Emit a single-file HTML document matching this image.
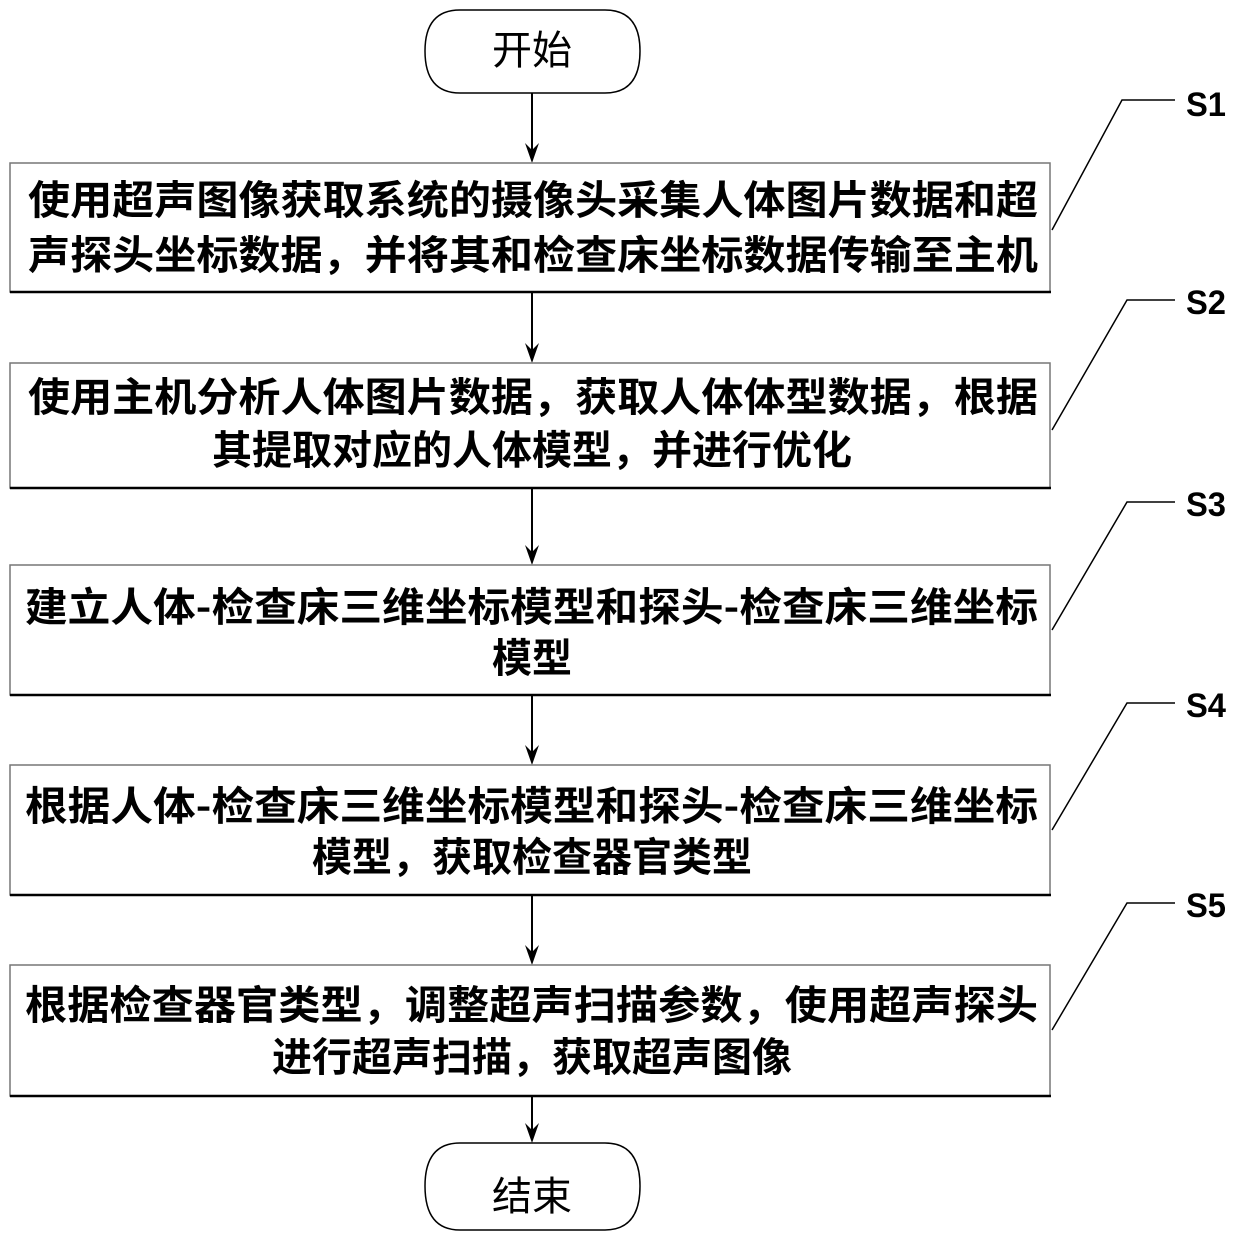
<!DOCTYPE html>
<html><head><meta charset="utf-8"><style>html,body{margin:0;padding:0;background:#fff}</style></head>
<body>
<svg width="1240" height="1254" viewBox="0 0 1240 1254" xmlns="http://www.w3.org/2000/svg" font-family="'Liberation Sans','Noto Sans CJK SC',sans-serif" font-weight="bold">
<g fill="none" stroke="#000" stroke-width="2">
<path d="M460,10 L605,10 Q640,10 640,51 Q640,93 605,93 L460,93 Q425,93 425,51 Q425,10 460,10 Z" stroke-width="1.5"/>
<path d="M460,1143 L605,1143 Q640,1143 640,1186 Q640,1230 605,1230 L460,1230 Q425,1230 425,1186 Q425,1143 460,1143 Z" stroke-width="1.5"/>
<line x1="532" y1="93" x2="532" y2="150"/>
<line x1="532" y1="293" x2="532" y2="350"/>
<line x1="532" y1="489" x2="532" y2="552"/>
<line x1="532" y1="696" x2="532" y2="752"/>
<line x1="532" y1="896" x2="532" y2="952"/>
<line x1="532" y1="1097" x2="532" y2="1130"/>
</g>
<g fill="#000">
<path d="M525,143 L532,163 L539,143 L532,150 Z"/>
<path d="M525,343 L532,363 L539,343 L532,350 Z"/>
<path d="M525,545 L532,565 L539,545 L532,552 Z"/>
<path d="M525,745 L532,765 L539,745 L532,752 Z"/>
<path d="M525,945 L532,965 L539,945 L532,952 Z"/>
<path d="M525,1123 L532,1143 L539,1123 L532,1130 Z"/>
</g>
<g fill="#fff" stroke="#777" stroke-width="1.5">
<rect x="10" y="163" width="1040" height="129"/>
<rect x="10" y="363" width="1040" height="125"/>
<rect x="10" y="565" width="1040" height="130"/>
<rect x="10" y="765" width="1040" height="130"/>
<rect x="10" y="965" width="1040" height="131"/>
</g>
<g stroke="#000" stroke-width="2.5">
<line x1="10" y1="292" x2="1051" y2="292"/><line x1="10" y1="488" x2="1051" y2="488"/>
<line x1="10" y1="695" x2="1051" y2="695"/><line x1="10" y1="895" x2="1051" y2="895"/>
<line x1="10" y1="1096" x2="1051" y2="1096"/>
</g>
<g fill="none" stroke="#000" stroke-width="1.5">
<polyline points="1052,230 1122,100 1175,100"/>
<polyline points="1052,430 1127,300 1175,300"/>
<polyline points="1052,630 1127,502 1175,502"/>
<polyline points="1052,830 1127,703 1175,703"/>
<polyline points="1052,1030 1127,903 1175,903"/>
</g>
<g font-size="34" fill="#000">
<text x="1186" y="116" textLength="40" lengthAdjust="spacingAndGlyphs">S1</text><text x="1186" y="314" textLength="40" lengthAdjust="spacingAndGlyphs">S2</text><text x="1186" y="516" textLength="40" lengthAdjust="spacingAndGlyphs">S3</text><text x="1186" y="717" textLength="40" lengthAdjust="spacingAndGlyphs">S4</text><text x="1186" y="917" textLength="40" lengthAdjust="spacingAndGlyphs">S5</text>
</g>
<g font-size="40" fill="#000" font-family="'Noto Sans CJK SC',sans-serif">
<text x="532" y="64" text-anchor="middle" font-weight="normal">开始</text>
<text x="532" y="1210" text-anchor="middle" font-weight="normal">结束</text>
<text x="28" y="214" textLength="1010" lengthAdjust="spacingAndGlyphs">使用超声图像获取系统的摄像头采集人体图片数据和超</text>
<text x="28" y="269" textLength="1010" lengthAdjust="spacingAndGlyphs">声探头坐标数据，并将其和检查床坐标数据传输至主机</text>
<text x="28" y="411" textLength="1010" lengthAdjust="spacingAndGlyphs">使用主机分析人体图片数据，获取人体体型数据，根据</text>
<text x="532" y="464" text-anchor="middle">其提取对应的人体模型，并进行优化</text>
<text x="25" y="621" textLength="1013" lengthAdjust="spacingAndGlyphs">建立人体-检查床三维坐标模型和探头-检查床三维坐标</text>
<text x="532" y="672" text-anchor="middle">模型</text>
<text x="25" y="820" textLength="1013" lengthAdjust="spacingAndGlyphs">根据人体-检查床三维坐标模型和探头-检查床三维坐标</text>
<text x="532" y="871" text-anchor="middle">模型，获取检查器官类型</text>
<text x="25" y="1019" textLength="1013" lengthAdjust="spacingAndGlyphs">根据检查器官类型，调整超声扫描参数，使用超声探头</text>
<text x="532" y="1071" text-anchor="middle">进行超声扫描，获取超声图像</text>
</g>
</svg>
</body></html>
